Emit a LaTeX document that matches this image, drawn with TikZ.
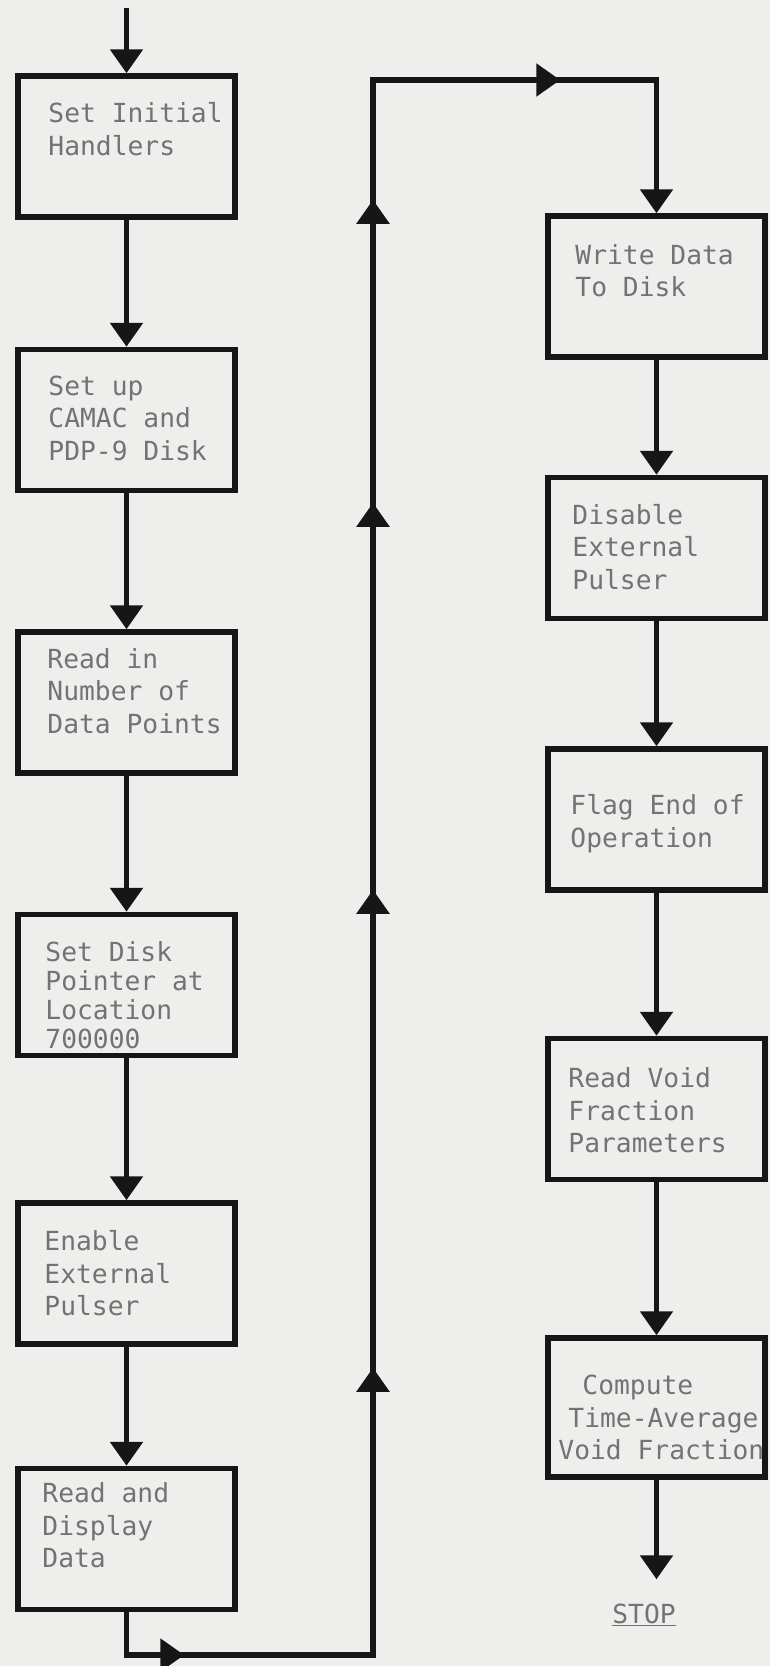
\documentclass[tikz,border=0pt]{standalone}
\usepackage{fontspec}
\newfontfamily\typefont{DejaVu Sans Mono}
\usetikzlibrary{arrows.meta,positioning,decorations.markings}

\definecolor{ink}{RGB}{22,22,22}
\definecolor{typegray}{RGB}{115,115,115}
\definecolor{paper}{RGB}{238,238,236}

\tikzset{
  stepbox/.style={draw=ink, line width=5.5pt, minimum width=217pt, minimum height=141pt, inner sep=0pt},
  boxtext/.style={anchor=north west, inner sep=0pt, align=left, text=typegray,
    font=\typefont\fontsize{26.3}{32.5}\selectfont, execute at begin node=\strut},
  tighttext/.style={font=\typefont\fontsize{26.3}{29}\selectfont},
  stoptext/.style={anchor=base, inner sep=0pt, text=typegray, font=\typefont\fontsize{26.3}{32.5}\selectfont},
  flow/.style={color=ink, line width=5.5pt, line join=miter, -{Triangle[length=24pt,width=32pt]}},
}

\begin{document}
\begin{tikzpicture}[x=1pt,y=-1pt]
\fill[paper] (0,0) rectangle (770,1666);
\useasboundingbox (0,0) rectangle (770,1666);

% left column
\node[stepbox, label={[boxtext,xshift=33pt,yshift=-29pt]north west:{Set Initial\\Handlers}}] (init) at (126.5,146.5) {};
\node[stepbox, below=127pt of init, label={[boxtext,xshift=33pt,yshift=-29pt]north west:{Set up\\CAMAC and\\PDP-9 Disk}}] (camac) {};
\node[stepbox, below=136pt of camac, label={[boxtext,xshift=32pt,yshift=-19pt]north west:{Read in\\Number of\\Data Points}}] (points) {};
\node[stepbox, below=136pt of points, label={[boxtext,tighttext,xshift=30pt,yshift=-29.7pt]north west:{Set Disk\\Pointer at\\Location\\700000}}] (pointer) {};
\node[stepbox, below=142pt of pointer, label={[boxtext,xshift=29pt,yshift=-30pt]north west:{Enable\\External\\Pulser}}] (enable) {};
\node[stepbox, below=119pt of enable, label={[boxtext,xshift=27pt,yshift=-17pt]north west:{Read and\\Display\\Data}}] (display) {};

% right column
\node[stepbox, label={[boxtext,xshift=30pt,yshift=-31pt]north west:{Write Data\\To Disk}}] (write) at (656.5,286.5) {};
\node[stepbox, below=115pt of write, label={[boxtext,xshift=27pt,yshift=-29pt]north west:{Disable\\External\\Pulser}}] (disable) {};
\node[stepbox, below=125pt of disable, label={[boxtext,xshift=25pt,yshift=-48pt]north west:{Flag End of\\Operation}}] (flag) {};
\node[stepbox, below=143pt of flag, label={[boxtext,xshift=23pt,yshift=-32pt]north west:{Read Void\\Fraction\\Parameters}}] (voidpar) {};
\node[stepbox, below=153pt of voidpar, minimum height=139pt, label={[boxtext,xshift=13pt,yshift=-40pt]north west:{\hspace*{24pt}Compute\\\hspace*{10pt}Time-Average\\Void Fraction}}] (average) {};
\node[stoptext] (stop) at (644,1623) {\underline{STOP}};

\coordinate (start) at (126.5,8);
\coordinate (lowturn) at (373,1655);
\coordinate (topturn) at (373,80);

\draw[flow] (start) -- (init);
\draw[flow] (init) -- (camac);
\draw[flow] (camac) -- (points);
\draw[flow] (points) -- (pointer);
\draw[flow] (pointer) -- (enable);
\draw[flow] (enable) -- (display);

% loop back to the top of the right column
\draw[flow, postaction=decorate, decoration={markings,
    mark=at position 100.5pt with {\arrow{Triangle[length=24pt,width=32pt]}},
    mark=at position 576.5pt with {\arrow{Triangle[length=24pt,width=32pt]}},
    mark=at position 1054.5pt with {\arrow{Triangle[length=24pt,width=32pt]}},
    mark=at position 1441.5pt with {\arrow{Triangle[length=24pt,width=32pt]}},
    mark=at position 1744.5pt with {\arrow{Triangle[length=24pt,width=32pt]}},
    mark=at position 2051.5pt with {\arrow{Triangle[length=24pt,width=32pt]}}}]
  (display) |- (lowturn) -- (topturn) -| (write);

\draw[flow] (write) -- (disable);
\draw[flow] (disable) -- (flag);
\draw[flow] (flag) -- (voidpar);
\draw[flow] (voidpar) -- (average);
\draw[flow, shorten >=24pt] (average) -- (average.south |- stop.north);
\end{tikzpicture}
\end{document}
